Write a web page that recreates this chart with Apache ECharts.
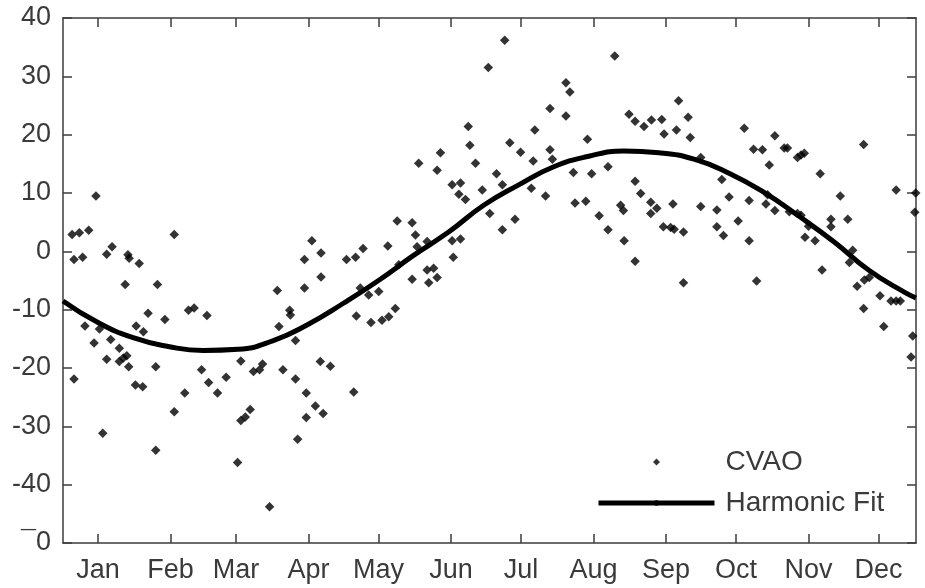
<!DOCTYPE html>
<html>
<head>
<meta charset="utf-8">
<script src="https://cdn.jsdelivr.net/npm/echarts@6/dist/echarts.min.js"></script>
<style>
html,body{margin:0;padding:0;background:#fff;}
#chart{width:925px;height:588px;}
</style>
</head>
<body>
<div id="chart"></div>
<script>
// Observed points: day of year and value
const pointDay = [
  3.9, 7.0, 11.0, 4.7, 8.4, 14.1, 18.7, 21.0, 27.8, 28.3, 32.6, 26.6, 9.4, 15.6, 13.3, 20.4, 24.1, 18.7, 24.1, 25.8, 27.3, 28.1, 4.7, 31.3, 31.0, 17.0,
  47.6, 40.4, 36.4, 43.6, 53.7, 56.1, 61.6, 34.4, 39.7, 34.1, 52.1, 47.6, 39.7, 59.3, 62.3, 66.1, 69.8,
  76.1, 81.5, 84.1, 85.4, 80.1, 78.0, 76.1, 74.7, 88.4, 91.7, 92.4, 94.1,
  97.0, 97.3, 99.5, 99.5, 100.4, 106.5, 103.3, 110.4, 110.4, 103.3, 110.1, 114.4, 104.1, 108.0, 111.3, 104.1, 121.3, 125.2, 128.4, 127.2, 130.8, 125.5, 124.4,
  135.1, 131.8, 136.5, 139.4, 142.2, 139.0, 143.0, 143.7, 149.4, 150.8, 151.5, 149.4, 155.8, 155.8, 158.6, 156.5, 160.1, 152.2,
  160.1, 161.5, 166.5, 170.1, 169.4, 172.2, 166.5, 170.1, 167.0, 173.4, 174.1, 176.5, 179.4,
  182.0, 189.0, 182.6, 188.0, 188.0, 193.4, 185.5, 191.2, 195.8, 201.9, 201.2, 200.4, 206.5, 208.4, 208.4, 209.4,
  215.2, 216.9, 215.2, 218.4, 219.1, 223.7, 224.4, 226.2, 229.4, 233.2, 233.2, 236.1, 238.6, 239.8, 240.1,
  242.2, 244.8, 244.8, 244.8, 247.2, 248.6, 251.5, 254.1, 251.5, 251.8, 256.2, 257.2, 256.9, 260.0, 261.5, 261.0, 262.5, 263.4, 265.5, 265.5, 267.5, 268.4,
  272.9, 272.9, 279.8, 279.8, 281.9, 282.6, 285.0, 288.9, 291.5, 293.6, 293.6, 295.5, 296.8, 299.3,
  300.8, 301.5, 302.2, 304.6, 304.6, 308.6, 310.0, 310.8, 314.3, 315.8, 317.2, 314.3, 315.8, 317.5, 319.0, 321.8, 324.0, 324.8, 328.6, 328.6,
  332.6, 335.8, 336.5, 337.9, 339.8, 342.9, 345.0, 342.6, 342.6, 349.6, 351.2, 354.3, 356.5, 358.3, 356.5, 364.9, 364.5, 363.6, 362.9
];
const pointValue = [
  2.9, 3.2, 3.6, -1.4, -1.0, 9.5, -0.5, 0.8, -0.6, -1.2, -2.1, -5.7, -12.8, -13.3, -15.7, -15.1, -16.6, -18.5, -18.9, -18.3, -17.9, -19.8, -21.9, -12.8, -22.9, -31.2,
  2.9, -5.7, -10.6, -11.7, -10.1, -9.7, -11.0, -13.8, -19.8, -23.2, -24.3, -27.5, -34.1, -20.3, -22.5, -24.3, -21.6,
  -18.8, -20.6, -20.3, -19.3, -27.1, -28.4, -29.0, -36.2, -43.8, -6.7, -12.9, -20.3,
  -10.1, -10.9, -15.3, -21.9, -32.2, 1.8, -1.4, -0.3, -4.4, -6.3, -18.9, -19.7, -24.3, -26.5, -27.8, -28.5, -1.4, -1.0, 0.5, -6.3, -7.5, -11.1, -24.1,
  -6.9, -12.2, -11.8, -11.2, -9.8, 0.9, 5.2, -2.3, 4.9, 2.8, 0.8, -4.8, 1.7, -3.2, -2.9, -5.4, -4.5, 15.1,
  13.9, 16.9, 11.4, 11.7, 9.8, 8.9, 1.8, 2.1, -1.0, 21.4, 18.2, 15.1, 10.5,
  31.5, 36.2, 6.5, 11.4, 3.7, 5.5, 13.3, 18.6, 17.0, 20.8, 15.5, 10.8, 9.5, 24.5, 17.4, 15.8,
  28.9, 27.3, 23.2, 13.5, 8.3, 8.6, 19.2, 13.3, 6.1, 14.5, 3.7, 33.5, 7.9, 7.0, 1.8,
  23.5, 22.3, -1.7, 12.0, 9.9, 21.4, 8.4, 7.4, 6.5, 22.5, 22.6, 20.1, 4.2, 4.1, 3.8, 8.1, 20.8, 25.8, 3.3, -5.4, 23.0, 19.5,
  16.1, 7.7, 7.1, 4.2, 12.3, 2.7, 9.3, 5.2, 21.1, 8.7, 1.8, 17.5, -5.1, 17.4,
  8.1, 9.7, 14.8, 19.8, 7.0, 17.7, 17.7, 6.8, 16.1, 16.5, 16.8, 6.5, 6.2, 2.4, 4.3, 1.8, 13.3, -3.2, 5.5, 4.2,
  9.5, 5.5, -1.9, 0.2, -6.0, -4.9, -4.5, 18.3, -9.8, -7.6, -12.9, -8.5, -8.5, -8.5, 10.5, 10.0, 6.7, -14.5, -18.1
];
// Harmonic fit curve
const fitDay = [0, 15, 30, 45, 60, 75, 90, 105, 120, 135, 150, 165, 180, 195, 210, 225, 240, 255, 270, 285, 300, 315, 330, 345, 360, 365];
const fitValue = [-8.5, -12.2, -14.8, -16.3, -17.0, -16.8, -15.3, -12.5, -8.9, -5.0, -0.7, 3.3, 7.9, 11.4, 14.5, 16.3, 17.2, 16.9, 15.8, 13.4, 10.1, 6.0, 1.6, -3.3, -7.0, -8.0];
// Axis ticks
const monthNames = ['Jan','Feb','Mar','Apr','May','Jun','Jul','Aug','Sep','Oct','Nov','Dec'];
const monthTickDay = [15, 46, 74, 105, 135, 166, 196, 227, 258, 288, 319, 349];
const yMin = -50, yMax = 40, yStep = 10;
const yBottomLabel = '\u00AF0';

const FONT = "'Liberation Sans', Arial, sans-serif";
const AXC = '#3c3c3c';
const TXC = '#3a3a3a';
const DIAMOND_PATH = 'path://M0,-1L1,0L0,1L-1,0Z';

const chart = echarts.init(document.getElementById('chart'), null, {renderer: 'canvas'});
const axisLineStyle = () => ({show: true, onZero: false, lineStyle: {color: AXC, width: 1.5}});
const tickStyle = (extra) => Object.assign({show: true, inside: true, length: 9, lineStyle: {color: AXC, width: 1.5}}, extra || {});

chart.setOption({
  animation: false,
  backgroundColor: '#ffffff',
  grid: {left: 63, right: 9, top: 18, bottom: 45, containLabel: false},
  xAxis: [
    {
      type: 'value', position: 'bottom', min: 0, max: 365,
      axisLine: axisLineStyle(),
      axisTick: tickStyle({customValues: monthTickDay}),
      axisLabel: {
        customValues: monthTickDay,
        formatter: v => monthNames[monthTickDay.indexOf(v)] || '',
        fontSize: 27, fontFamily: FONT, color: TXC, margin: 14
      },
      splitLine: {show: false}
    },
    {
      type: 'value', position: 'top', min: 0, max: 365,
      axisLine: axisLineStyle(),
      axisTick: tickStyle({customValues: monthTickDay}),
      axisLabel: {show: false},
      splitLine: {show: false}
    }
  ],
  yAxis: [
    {
      type: 'value', position: 'left', min: yMin, max: yMax, interval: yStep,
      axisLine: axisLineStyle(),
      axisTick: tickStyle(),
      axisLabel: {
        formatter: v => (v === yMin ? yBottomLabel : String(v)),
        fontSize: 27, fontFamily: FONT, color: TXC, margin: 12
      },
      splitLine: {show: false}
    },
    {
      type: 'value', position: 'right', min: yMin, max: yMax, interval: yStep,
      axisLine: axisLineStyle(),
      axisTick: tickStyle(),
      axisLabel: {show: false},
      splitLine: {show: false}
    }
  ],
  legend: {
    orient: 'vertical',
    left: 596, top: 448,
    padding: 0,
    itemWidth: 116, itemHeight: 7, itemGap: 13,
    symbolKeepAspect: true,
    lineStyle: {width: 5},
    textStyle: {fontSize: 28, fontFamily: FONT, color: TXC, padding: [0, 0, 0, 6]},
    data: [
      {name: 'CVAO', icon: DIAMOND_PATH, itemStyle: {color: '#000000'}},
      {name: 'Harmonic Fit'}
    ]
  },
  series: [
    {
      name: 'CVAO', type: 'scatter',
      xAxisIndex: 0, yAxisIndex: 0,
      symbol: 'diamond', symbolSize: 9.5,
      itemStyle: {color: '#000000'},
      data: pointDay.map((d, i) => [d, pointValue[i]])
    },
    {
      name: 'Harmonic Fit', type: 'line',
      xAxisIndex: 0, yAxisIndex: 0,
      smooth: true, symbol: 'none',
      lineStyle: {color: '#000000', width: 5},
      itemStyle: {color: '#000000'},
      data: fitDay.map((d, i) => [d, fitValue[i]])
    }
  ]
});
</script>
</body>
</html>
